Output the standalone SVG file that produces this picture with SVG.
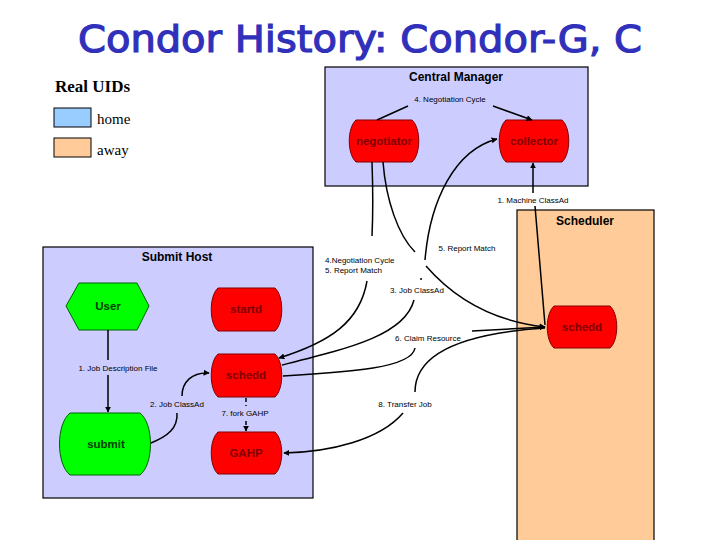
<svg xmlns="http://www.w3.org/2000/svg" width="720" height="540" viewBox="0 0 720 540">
<style>
.box{fill:#ccccff;stroke:#000;stroke-width:1.2}
.red{fill:#ff0000;stroke:#800000;stroke-width:1}
.grn{fill:#00ff00;stroke:#006000;stroke-width:1}
.rt{font-family:"Liberation Sans",Arial,sans-serif;font-weight:bold;font-size:11.5px;fill:#800000;text-anchor:middle}
.gt{font-family:"Liberation Sans",Arial,sans-serif;font-weight:bold;font-size:11.5px;fill:#004000;text-anchor:middle}
.hd{font-family:"Liberation Sans",Arial,sans-serif;font-weight:bold;font-size:12px;fill:#000;text-anchor:middle}
.lb{font-family:"Liberation Sans",Arial,sans-serif;font-size:8px;fill:#000;text-anchor:middle}
.lbl{font-family:"Liberation Sans",Arial,sans-serif;font-size:8px;fill:#000}
.c{fill:none;stroke:#000;stroke-width:1.5}
.lg{font-family:"Liberation Serif","Times New Roman",serif;font-size:15px;fill:#000}
</style>
<defs>
<marker id="ah" viewBox="0 0 10 10" refX="9" refY="5" markerWidth="6" markerHeight="6" markerUnits="userSpaceOnUse" orient="auto">
<path d="M0,0 L10,5 L0,10 z" fill="#000"/>
</marker>
</defs>
<rect width="720" height="540" fill="#fff"/>
<text x="360" y="52" text-anchor="middle" font-family="DejaVu Sans,sans-serif" font-size="38" fill="#3030bb" stroke="#3030bb" stroke-width="1.2" textLength="564" lengthAdjust="spacingAndGlyphs">Condor History: Condor-G, C</text>

<g id="legend">
<text x="55" y="92" font-family="Liberation Serif,serif" font-weight="bold" font-size="17">Real UIDs</text>
<rect x="54" y="108" width="37" height="19" fill="#99ccff" stroke="#000"/>
<text class="lg" x="97" y="124">home</text>
<rect x="54" y="138" width="37" height="19" fill="#ffcc99" stroke="#000"/>
<text class="lg" x="97" y="155">away</text>
</g>

<g id="central-manager">
<rect class="box" x="325" y="67" width="263" height="119"/>
<text class="hd" x="456" y="81">Central Manager</text>
<text class="lb" x="450" y="102">4. Negotiation Cycle</text>
</g>
<g id="scheduler">
<rect x="517" y="210" width="137" height="340" fill="#ffcc99" stroke="#000" stroke-width="1.2"/>
<text class="hd" x="585" y="225">Scheduler</text>
</g>
<g id="submit-host">
<rect class="box" x="43" y="247" width="270" height="251"/>
<text class="hd" x="177" y="261">Submit Host</text>
</g>

<g id="negotiator">
<path class="red" d="M356,120 L412,120 C421,128 421,154 412,162 L356,162 C347,154 347,128 356,120 Z"/>
<text class="rt" x="384" y="145">negotiator</text>
</g>
<g id="collector">
<path class="red" d="M506,120 L562,120 C571,128 571,154 562,162 L506,162 C497,154 497,128 506,120 Z"/>
<text class="rt" x="534" y="145">collector</text>
</g>
<g id="scheduler-schedd">
<path class="red" d="M554,306 L610,306 C619,314 619,340 610,348 L554,348 C545,340 545,314 554,306 Z"/>
<text class="rt" x="582" y="331">schedd</text>
</g>
<g id="user">
<polygon class="grn" points="66,306 79,283 137,283 149,306 137,330 79,330"/>
<text class="gt" x="108" y="310">User</text>
</g>
<g id="startd">
<path class="red" d="M218,288 L275,288 C284,296 284,323 275,331 L218,331 C209,323 209,296 218,288 Z"/>
<text class="rt" x="246" y="313">startd</text>
</g>
<g id="schedd">
<path class="red" d="M218,354 L275,354 C284,362 284,389 275,397 L218,397 C209,389 209,362 218,354 Z"/>
<text class="rt" x="246" y="379">schedd</text>
</g>
<g id="gahp">
<path class="red" d="M218,432 L275,432 C284,440 284,466 275,474 L218,474 C209,466 209,440 218,432 Z"/>
<text class="rt" x="246" y="457">GAHP</text>
</g>
<g id="submit">
<path class="grn" d="M70,413 L140,413 C154,424 154,464 140,475 L70,475 C56,464 56,424 70,413 Z"/>
<text class="gt" x="106" y="448">submit</text>
</g>

<g id="connectors">
<path class="c" d="M377,120 L408,106"/>
<path class="c" d="M493,106 L532,120" marker-end="url(#ah)"/>
<path class="c" d="M533,193 L533,163" marker-end="url(#ah)"/>
<path class="c" d="M535,206 L545,325"/>
<path class="c" d="M372,162 C373,190 373,215 372,236"/>
<path class="c" d="M367,281 C360,322 330,342 279,358" marker-end="url(#ah)"/>
<path class="c" d="M383,162 C386,200 398,235 415,252"/>
<path class="c" d="M425,260 C430,200 455,150 497,139" marker-end="url(#ah)"/>
<path class="c" d="M426,266 C460,305 500,322 545,327" marker-end="url(#ah)"/>
<path class="c" d="M282,365 C350,348 405,335 414,300"/>
<path class="c" d="M421,278 L421,280"/>
<path class="c" d="M283,376 C350,372 412,368 415,348"/>
<path class="c" d="M472,331 L545,327" marker-end="url(#ah)"/>
<path class="c" d="M415,392 C415,350 470,333 545,328"/>
<path class="c" d="M403,413 C380,440 330,452 284,453" marker-end="url(#ah)"/>
<path class="c" d="M108,330 L108,360"/>
<path class="c" d="M108,375 L108,412" marker-end="url(#ah)"/>
<path class="c" d="M151,443 C168,436 178,428 177,413"/>
<path class="c" d="M182,396 C182,382 192,372 209,373" marker-end="url(#ah)"/>
<path class="c" d="M246,398 L246,406" stroke-dasharray="4,3"/>
<path class="c" d="M246,421 L246,431" stroke-dasharray="4,3" marker-end="url(#ah)"/>
</g>

<g id="labels">
<text class="lb" x="533" y="203">1. Machine ClassAd</text>
<text class="lb" x="467" y="251">5. Report Match</text>
<text class="lbl" x="325" y="263">4.Negotiation Cycle</text>
<text class="lbl" x="325" y="273">5. Report Match</text>
<text class="lb" x="417" y="293">3. Job ClassAd</text>
<text class="lb" x="428" y="341">6. Claim Resource</text>
<text class="lb" x="405" y="407">8. Transfer Job</text>
<text class="lb" x="118" y="371">1. Job Description File</text>
<text class="lb" x="177" y="407">2. Job ClassAd</text>
<text class="lb" x="245" y="416">7. fork GAHP</text>
</g>
</svg>
